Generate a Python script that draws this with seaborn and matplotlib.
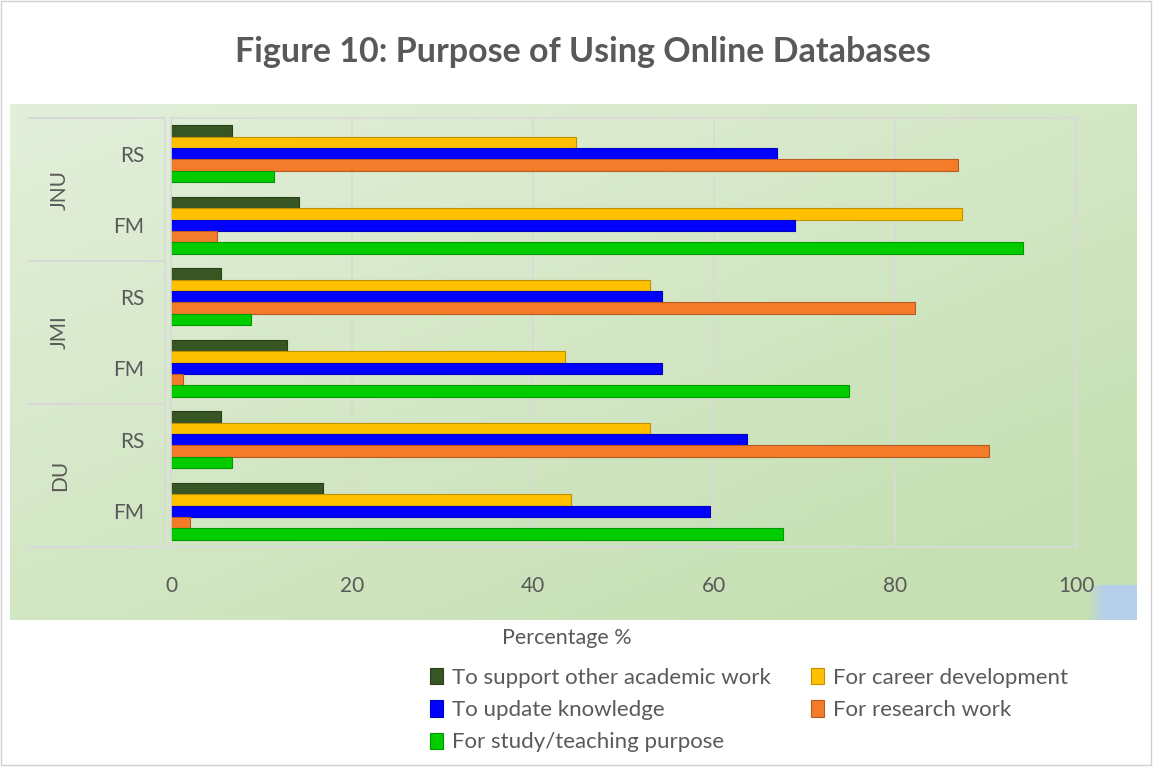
import numpy as np
import pandas as pd
import seaborn as sns
import matplotlib.pyplot as plt
import matplotlib.colors as mcolors
from matplotlib.patches import Rectangle

# data (percent), rows top to bottom
rows = ["JNU RS", "JNU FM", "JMI RS", "JMI FM", "DU RS", "DU FM"]
row_labels = ["RS", "FM", "RS", "FM", "RS", "FM"]
groups = ["JNU", "JMI", "DU"]

purposes = ["To support other academic work", "For career development",
            "To update knowledge", "For research work", "For study/teaching purpose"]
academic = [6.7, 14.1, 5.5, 12.8, 5.5, 16.8]
career = [44.8, 87.4, 52.9, 43.5, 52.9, 44.2]
update = [67.0, 69.0, 54.3, 54.3, 63.6, 59.6]
research = [87.0, 5.1, 82.2, 1.3, 90.4, 2.1]
study = [11.4, 94.1, 8.8, 74.9, 6.7, 67.6]

colors = ["#375623", "#ffc000", "#0000ff", "#f47b2a", "#00cc00"]

series = [academic, career, update, research, study]
df = pd.concat([pd.DataFrame({"row": rows, "value": vals, "purpose": p})
                for p, vals in zip(purposes, series)])

sns.set_style("white")
plt.rcParams['font.family'] = ['Lato', 'DejaVu Sans']
grey = "#595959"

W, H = 1161, 770
fig = plt.figure(figsize=(W / 100, H / 100), dpi=100)
fig.patch.set_facecolor("white")

# green gradient background of the plot area
bg = fig.add_axes([10 / W, 1 - 620 / H, 1127 / W, 516 / H])
xx, yy = np.meshgrid(np.linspace(0, 1, 200), np.linspace(0, 1, 120))
t = np.clip(0.55 * xx + 0.6 * yy, 0, 1)
c0 = np.array(mcolors.to_rgb("#e3efdb"))
c1 = np.array(mcolors.to_rgb("#c6e0b3"))
img = c0[None, None, :] * (1 - t[..., None]) + c1[None, None, :] * t[..., None]
bg.imshow(img, aspect="auto", extent=(0, 1, 0, 1))
# small blue patch in the bottom right corner, fading to the left
blue = np.array(mcolors.to_rgb("#b5d0ea"))
fade = np.linspace(0, 1, 50)
patch = np.ones((10, 50, 4))
patch[..., :3] = blue
patch[..., 3] = np.clip(fade * 3, 0, 1)[None, :]
bg.imshow(patch, aspect="auto", extent=(1 - 50 / 1127, 1, 0, 35 / 516))
bg.set_xlim(0, 1)
bg.set_ylim(0, 1)
bg.set_axis_off()

ax = fig.add_axes([171 / W, 1 - 547 / H, 905 / W, 429 / H])
ax.patch.set_alpha(0)
sns.barplot(data=df, y="row", x="value", hue="purpose", order=rows,
            hue_order=purposes, palette=colors, orient="h", width=0.8,
            ax=ax, saturation=1)

for bar in ax.patches:
    fc = np.array(mcolors.to_rgb(bar.get_facecolor()))
    bar.set_edgecolor(fc * 0.75)
    bar.set_linewidth(0.8)

handles, labels = ax.get_legend_handles_labels()
ax.get_legend().remove()

ax.set_xlim(0, 100)
ax.set_ylim(5.5, -0.5)
ax.set_xticks([0, 20, 40, 60, 80, 100])
ax.set_yticks(range(6))
ax.set_yticklabels(row_labels)
ax.tick_params(axis="y", length=0, pad=19, labelsize=15, labelcolor=grey)
ax.tick_params(axis="x", length=0, pad=21, labelsize=15, labelcolor=grey)
ax.set_xlabel("")
ax.set_ylabel("")
ax.grid(axis="x", color="#d9d9d9", lw=1.2)
ax.set_axisbelow(True)
for s in ax.spines.values():
    s.set_color("#d9d9d9")
    s.set_linewidth(1.2)

# group separators and group labels on the left
tr = ax.get_yaxis_transform()
x0 = (28 - 171) / 905
x1 = (165 - 171) / 905
for yb in [-0.5, 1.5, 3.5, 5.5]:
    ax.plot([x0, x1], [yb, yb], transform=tr, color="#d9d9d9", lw=1.5, clip_on=False)
ax.plot([x1, x1], [-0.5, 5.5], transform=tr, color="#d9d9d9", lw=1.2, clip_on=False)
for i, g in enumerate(groups):
    ax.text((60 - 171) / 905, 2 * i + 0.5, g, transform=tr, rotation=90,
            ha="center", va="center", fontsize=15, color=grey)

fig.text(583 / W, 1 - 52 / H, "Figure 10: Purpose of Using Online Databases",
         ha="center", va="center", fontsize=24.5, fontweight="bold", color=grey)
fig.text(567 / W, 1 - 638 / H, "Percentage %", ha="center", va="center",
         fontsize=15.5, color=grey)

order = [0, 2, 4, 1, 3]
fig.legend([handles[i] for i in order], [labels[i] for i in order],
           loc="upper left", bbox_to_anchor=(430 / W, 1 - 668 / H), ncol=2,
           frameon=False, fontsize=16, labelcolor=grey, handlelength=0.6,
           handleheight=0.75, handletextpad=0.4, columnspacing=1.8,
           labelspacing=0.55, borderaxespad=0, borderpad=0)

fig.add_artist(Rectangle((0.001, 0.007), 0.99, 0.992, transform=fig.transFigure,
                         fill=False, edgecolor="#d0d0d0", lw=1))

fig.savefig("out.png", dpi=100)
